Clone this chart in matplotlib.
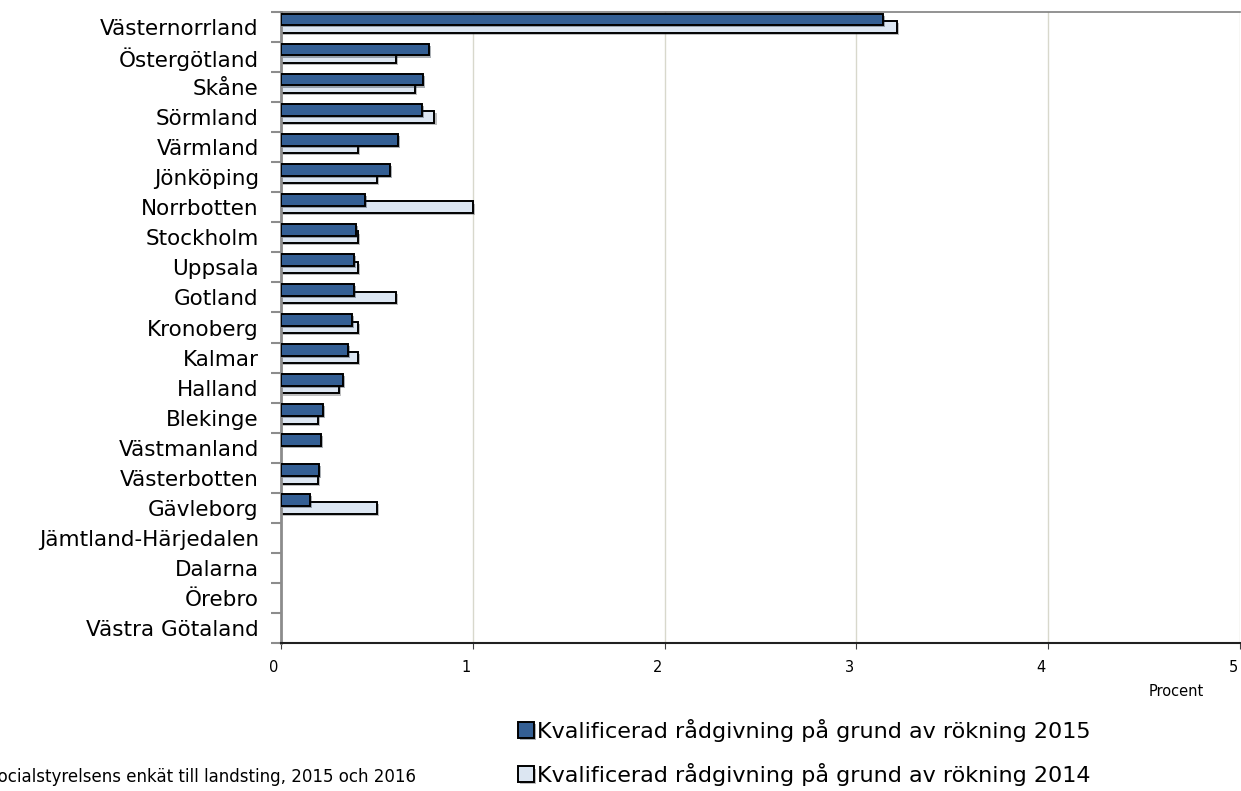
import matplotlib.pyplot as plt
import matplotlib.patheffects as pe
import numpy as np

plt.rcParams['font.family'] = ['DejaVu Sans']

# Data (procent)
lan = ['Västernorrland', 'Östergötland', 'Skåne', 'Sörmland', 'Värmland', 'Jönköping',
       'Norrbotten', 'Stockholm', 'Uppsala', 'Gotland', 'Kronoberg', 'Kalmar', 'Halland',
       'Blekinge', 'Västmanland', 'Västerbotten', 'Gävleborg', 'Jämtland-Härjedalen',
       'Dalarna', 'Örebro', 'Västra Götaland']
v2015 = [3.14, 0.77, 0.74, 0.735, 0.61, 0.57, 0.44, 0.39, 0.38, 0.38, 0.37, 0.35, 0.325,
         0.22, 0.21, 0.20, 0.15, 0, 0, 0, 0]
v2014 = [3.21, 0.60, 0.70, 0.80, 0.40, 0.50, 1.00, 0.40, 0.40, 0.60, 0.40, 0.40, 0.30,
         0.195, 0, 0.195, 0.50, 0, 0, 0, 0]
xticks = [0, 1, 2, 3, 4, 5]
lbl2015 = 'Kvalificerad rådgivning på grund av rökning 2015'
lbl2014 = 'Kvalificerad rådgivning på grund av rökning 2014'

c2015 = '#345f94'
c2014 = '#dce6f2'

W, H = 1241, 791
fig = plt.figure(figsize=(W / 100, H / 100), dpi=100)
ax = fig.add_axes([281 / W, 1 - 643 / H, (1240 - 281) / W, (643 - 12) / H])

y = np.arange(len(lan))
shadow = [pe.SimplePatchShadow(offset=(1.5, -1.5), alpha=0.35), pe.Normal()]
b14 = ax.barh(y, v2014, height=0.39, color=c2014, edgecolor='black', linewidth=1.4,
              label=lbl2014, zorder=2)
b15 = ax.barh(y - 0.25, v2015, height=0.39, color=c2015, edgecolor='black', linewidth=1.4,
              label=lbl2015, zorder=3)
for b in list(b14) + list(b15):
    if b.get_width() > 0:
        b.set_path_effects(shadow)
    else:
        b.set_visible(False)

ax.set_xlim(0, 5)
ax.set_ylim(len(lan) - 0.5, -0.5)
ax.set_xticks(xticks)
ax.set_xticklabels([])
# x labels sit a little left of the gridlines, as in Excel
for v in xticks:
    ax.annotate(str(v), xy=(v, 0), xycoords=('data', 'axes fraction'),
                xytext=(-7, -25), textcoords='offset pixels',
                ha='center', va='center', fontsize=10.5, annotation_clip=False)
ax.set_yticks(y)
ax.set_yticklabels(lan, fontsize=15.5)
ax.set_yticks(np.arange(len(lan) + 1) - 0.5, minor=True)
ax.tick_params(axis='y', which='major', length=0, pad=16)
ax.tick_params(axis='y', which='minor', length=7, color='#8c8c8c', width=1.5)
ax.tick_params(axis='x', length=4, color='#404040')
ax.grid(axis='x', color='#d8d8cc', linewidth=1)
ax.set_axisbelow(True)

ax.spines['left'].set_color('#8c8c8c')
ax.spines['left'].set_linewidth(2)
ax.spines['top'].set_color('#808080')
ax.spines['top'].set_linewidth(1.2)
ax.spines['bottom'].set_color('#202020')
ax.spines['bottom'].set_linewidth(1.5)
ax.spines['right'].set_visible(False)

fig.text(1176 / W, 1 - 692 / H, 'Procent', fontsize=10.5, ha='center', va='center')

fig.legend(handles=[b15, b14], loc='upper left', bbox_to_anchor=(518 / W, 1 - 719 / H),
           frameon=False, fontsize=16, handlelength=0.72, handleheight=0.72,
           handletextpad=0.15, labelspacing=0.95, borderpad=0, borderaxespad=0)

fig.text(416 / W, 1 - 777 / H, 'Källa: Socialstyrelsens enkät till landsting, 2015 och 2016',
         fontsize=12, ha='right', va='center')

fig.savefig('out.png', dpi=100)
